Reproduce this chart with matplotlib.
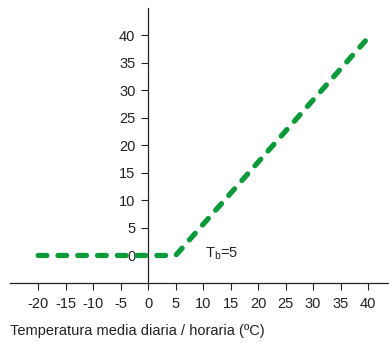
import matplotlib
matplotlib.use("Agg")
import matplotlib.pyplot as plt

# degree-day curve: zero below base temperature, then rising
temp = [-20, 5, 39.5]
gd = [0, 0, 39]
xticks = [-20, -15, -10, -5, 0, 5, 10, 15, 20, 25, 30, 35, 40]
yticks = [0, 5, 10, 15, 20, 25, 30, 35, 40]

plt.rcParams['font.family'] = ['Liberation Sans', 'DejaVu Sans']
plt.rcParams['axes.unicode_minus'] = False

fig = plt.figure(figsize=(3.89, 3.43), dpi=100)
ax = fig.add_axes([0.026, 0.175, 0.974, 0.802])

ax.plot(temp, gd, color="#0b9a3a", linewidth=3.8, linestyle=(0, (1.65, 2.1)),
        dash_capstyle="round", solid_capstyle="round", zorder=5)

ax.set_xlim(-25.1, 43.8)
ax.set_ylim(-5, 45)

ax.spines['top'].set_visible(False)
ax.spines['right'].set_visible(False)
ax.spines['left'].set_position(('data', 0))
ax.spines['left'].set_linewidth(0.9)
ax.spines['bottom'].set_linewidth(0.9)
ax.spines['left'].set_color("#222222")
ax.spines['bottom'].set_color("#222222")

ax.set_xticks(xticks)
ax.set_yticks(yticks)
ax.tick_params(axis='both', length=5.2, width=0.8, color="#222222",
               labelsize=10.5, labelcolor="#222222")
ax.tick_params(axis='x', pad=5)
ax.tick_params(axis='y', pad=4)

ax.text(10.3, 0.3, r"T$_\mathregular{b}$=5", fontsize=10.5, color="#222222",
        va="center", ha="left")

fig.text(0.026, 0.035, "Temperatura media diaria / horaria (ºC)",
         fontsize=10.5, color="#222222", ha="left", va="center")

fig.savefig("out.png", dpi=100)
